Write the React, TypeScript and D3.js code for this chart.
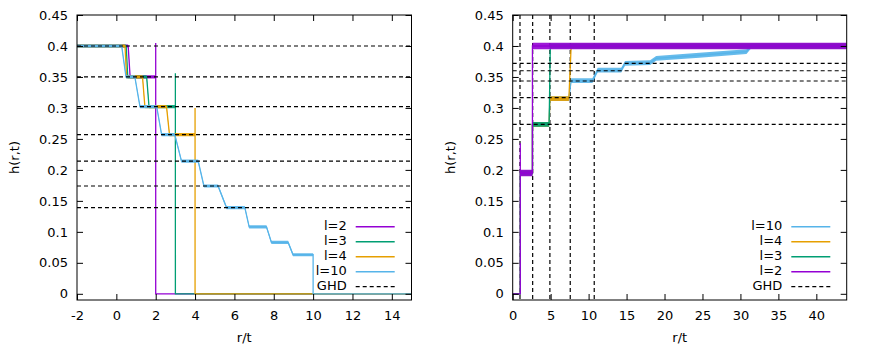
import React, { useEffect, useRef } from 'react';
import * as d3 from 'd3';

type Pt = [number, number];

// tick labels
const Y_TICKS = [0, 0.05, 0.1, 0.15, 0.2, 0.25, 0.3, 0.35, 0.4, 0.45];
const LEFT_X_TICKS = [-2, 0, 2, 4, 6, 8, 10, 12, 14];
const RIGHT_X_TICKS = [0, 5, 10, 15, 20, 25, 30, 35, 40];

// GHD plateaus (left panel, horizontal)
const LEFT_GHD_LEVELS = [0.4, 0.35, 0.302, 0.257, 0.214, 0.174, 0.139];
// GHD (right panel): rays r/t and plateau heights
const RIGHT_GHD_RAYS = [0.96, 2.63, 4.9, 7.58, 10.74];
const RIGHT_GHD_LEVELS = [0.2735, 0.3165, 0.3435, 0.36, 0.372];

// left panel, h(r,t) vs r/t
const left_l2: Pt[] = [[-2, 0.4], [0.6, 0.4], [0.7, 0.35], [2, 0.35], [2, 0.405], [2, 0], [15, 0]];
const left_l3: Pt[] = [[-2, 0.4], [0.5, 0.4], [0.58, 0.35], [1.54, 0.35], [1.66, 0.302], [3, 0.302], [3, 0.356], [3, 0], [15, 0]];
const left_l4: Pt[] = [[-2, 0.4], [0.44, 0.4], [0.52, 0.35], [1.33, 0.35], [1.45, 0.302], [2.55, 0.302], [2.7, 0.257], [4, 0.257], [4, 0.3], [4, 0], [15, 0]];
const left_l10: Pt[] = [
  [-2, 0.4], [0.27, 0.4], [0.49, 0.35], [0.94, 0.35], [1.2, 0.302], [2.05, 0.302], [2.3, 0.257],
  [2.97, 0.257], [3.31, 0.214], [4.16, 0.214], [4.45, 0.174], [5.17, 0.174], [5.6, 0.139],
  [6.53, 0.139], [6.75, 0.108], [7.63, 0.108], [7.88, 0.083], [8.73, 0.083], [8.98, 0.063],
  [10, 0.063], [10, 0], [15, 0],
];

// right panel
const right_l2: Pt[] = [[0, 0], [1, 0], [1, 0.243], [1, 0.195], [2.6, 0.195], [2.6, 0.4], [44, 0.4]];
const right_l3: Pt[] = [[0, 0], [1, 0], [1, 0.195], [2.6, 0.195], [2.6, 0.2735], [4.8, 0.2735], [4.95, 0.4], [44, 0.4]];
const right_l4: Pt[] = [[0, 0], [1, 0], [1, 0.195], [2.6, 0.195], [2.6, 0.2735], [4.8, 0.2735], [4.9, 0.315], [7.4, 0.315], [7.7, 0.4], [44, 0.4]];
const right_l10: Pt[] = [
  [0, 0], [1, 0], [1, 0.195], [2.6, 0.195], [2.6, 0.2735], [4.8, 0.2735], [4.9, 0.315], [7.4, 0.315],
  [7.7, 0.344], [10.5, 0.344], [11.2, 0.361], [14.3, 0.361], [14.8, 0.372], [18.1, 0.373],
  [18.9, 0.38], [24.6, 0.385], [30.8, 0.391], [31.4, 0.4], [44, 0.4],
];

const PURPLE = '#9400d3';
const GREEN = '#009e73';
const ORANGE = '#e69f00';
const BLUE = '#56b4e9';
const FONT = '"DejaVu Sans", sans-serif';

const Y_TOP = 15;
const Y_BOTTOM = 300;

const App = () => {
  const svgRef = useRef<SVGSVGElement>(null);

  useEffect(() => {
    if (!svgRef.current) return;
    const svg = d3.select(svgRef.current);
    svg.selectAll('*').remove();

    const y = d3.scaleLinear().domain([-0.01, 0.45]).range([Y_BOTTOM, Y_TOP]);

    const drawPanel = (opts: any) => {
      const x = d3.scaleLinear().domain(opts.domain).range([opts.x0, opts.x1]);
      const g = svg.append('g');
      const clipId = 'clip' + opts.id;
      g.append('clipPath').attr('id', clipId)
        .append('rect')
        .attr('x', opts.x0).attr('y', Y_TOP)
        .attr('width', opts.x1 - opts.x0).attr('height', Y_BOTTOM - Y_TOP);

      const plot = g.append('g').attr('clip-path', `url(#${clipId})`);

      const dashed = (sel: any) => sel
        .attr('stroke', '#000')
        .attr('stroke-width', 1.2)
        .attr('stroke-dasharray', '4,3')
        .attr('fill', 'none');

      // vertical GHD rays sit behind the data
      (opts.ghdRays || []).forEach((r: number) => {
        plot.append('line')
          .attr('x1', x(r)).attr('x2', x(r))
          .attr('y1', Y_TOP).attr('y2', Y_BOTTOM)
          .call(dashed);
      });

      opts.series.forEach((s: any) => {
        const hw = s.hw;
        const band = d3.area<Pt>()
          .x(d => x(d[0]))
          .y0(d => y(d[1]) - (d[1] > 0 ? hw : 0))
          .y1(d => y(d[1]) + (d[1] > 0 ? hw : 0));
        plot.append('path')
          .attr('d', band(s.data))
          .attr('fill', s.color)
          .attr('opacity', 0.9);
        const line = d3.line<Pt>().x(d => x(d[0])).y(d => y(d[1]));
        plot.append('path')
          .attr('d', line(s.data))
          .attr('fill', 'none')
          .attr('stroke', s.color)
          .attr('stroke-width', 1.3);
      });

      // horizontal GHD plateaus on top
      opts.ghdLevels.forEach((h: number) => {
        plot.append('line')
          .attr('x1', opts.x0).attr('x2', opts.x1)
          .attr('y1', y(h)).attr('y2', y(h))
          .call(dashed);
      });

      // axes, gnuplot style: ticks inward on all sides
      const fmt = (d: any) => String(d);
      const styleAxis = (a: any) => {
        a.select('.domain').remove();
        a.selectAll('line').attr('stroke', '#000').attr('stroke-width', 1);
        a.selectAll('text').attr('font-family', FONT).attr('font-size', 13).attr('fill', '#000');
      };
      g.append('g').attr('transform', `translate(0,${Y_BOTTOM})`)
        .call(d3.axisBottom(x).tickValues(opts.xTicks).tickSize(-6).tickPadding(11).tickFormat(fmt))
        .call(styleAxis);
      g.append('g').attr('transform', `translate(0,${Y_TOP})`)
        .call(d3.axisTop(x).tickValues(opts.xTicks).tickSize(-6).tickFormat(() => ''))
        .call(styleAxis);
      g.append('g').attr('transform', `translate(${opts.x0},0)`)
        .call(d3.axisLeft(y).tickValues(Y_TICKS).tickSize(-6).tickPadding(9).tickFormat(fmt))
        .call(styleAxis);
      g.append('g').attr('transform', `translate(${opts.x1},0)`)
        .call(d3.axisRight(y).tickValues(Y_TICKS).tickSize(-6).tickFormat(() => ''))
        .call(styleAxis);

      g.append('rect')
        .attr('x', opts.x0).attr('y', Y_TOP)
        .attr('width', opts.x1 - opts.x0).attr('height', Y_BOTTOM - Y_TOP)
        .attr('fill', 'none').attr('stroke', '#000').attr('stroke-width', 1);

      // axis titles
      g.append('text')
        .attr('transform', `translate(${opts.yLabelX},${(Y_TOP + Y_BOTTOM) / 2}) rotate(-90)`)
        .attr('text-anchor', 'middle').attr('dominant-baseline', 'middle')
        .attr('font-family', FONT).attr('font-size', 13)
        .text('h(r,t)');
      g.append('text')
        .attr('x', (opts.x0 + opts.x1) / 2).attr('y', 338)
        .attr('text-anchor', 'middle').attr('dominant-baseline', 'middle')
        .attr('font-family', FONT).attr('font-size', 13)
        .text('r/t');

      // legend
      const rows = [...opts.series.map((s: any) => ({ label: s.label, color: s.color, dash: null })),
        { label: 'GHD', color: '#000', dash: '4,3' }];
      rows.forEach((r: any, i: number) => {
        const ly = 226.7 + i * 15;
        g.append('text')
          .attr('x', opts.legendX).attr('y', ly)
          .attr('text-anchor', 'end').attr('dominant-baseline', 'middle')
          .attr('font-family', FONT).attr('font-size', 13)
          .text(r.label);
        g.append('line')
          .attr('x1', opts.legendX + 9).attr('x2', opts.legendX + 48)
          .attr('y1', ly).attr('y2', ly)
          .attr('stroke', r.color)
          .attr('stroke-width', r.dash ? 1.2 : 1.5)
          .attr('stroke-dasharray', r.dash);
      });
    };

    drawPanel({
      id: 'L',
      x0: 77, x1: 411.5, domain: [-2, 15],
      xTicks: LEFT_X_TICKS,
      ghdLevels: LEFT_GHD_LEVELS,
      ghdRays: [],
      yLabelX: 15,
      legendX: 346.7,
      series: [
        { label: 'l=2', data: left_l2, color: PURPLE, hw: 1.6 },
        { label: 'l=3', data: left_l3, color: GREEN, hw: 1.6 },
        { label: 'l=4', data: left_l4, color: ORANGE, hw: 1.6 },
        { label: 'l=10', data: left_l10, color: BLUE, hw: 1.6 },
      ],
    });

    drawPanel({
      id: 'R',
      x0: 512.7, x1: 846.7, domain: [0, 44],
      xTicks: RIGHT_X_TICKS,
      ghdLevels: RIGHT_GHD_LEVELS,
      ghdRays: RIGHT_GHD_RAYS,
      yLabelX: 451.7,
      legendX: 782.3,
      series: [
        { label: 'l=10', data: right_l10, color: BLUE, hw: 2.4 },
        { label: 'l=4', data: right_l4, color: ORANGE, hw: 2.4 },
        { label: 'l=3', data: right_l3, color: GREEN, hw: 2.4 },
        { label: 'l=2', data: right_l2, color: PURPLE, hw: 3.3 },
      ],
    });
  }, []);

  return (
    <div style={{ position: 'absolute', left: 0, top: 0, width: 872, height: 349, background: '#fff' }}>
      <svg ref={svgRef} width={872} height={349} style={{ display: 'block' }}></svg>
    </div>
  );
};

export default App;
